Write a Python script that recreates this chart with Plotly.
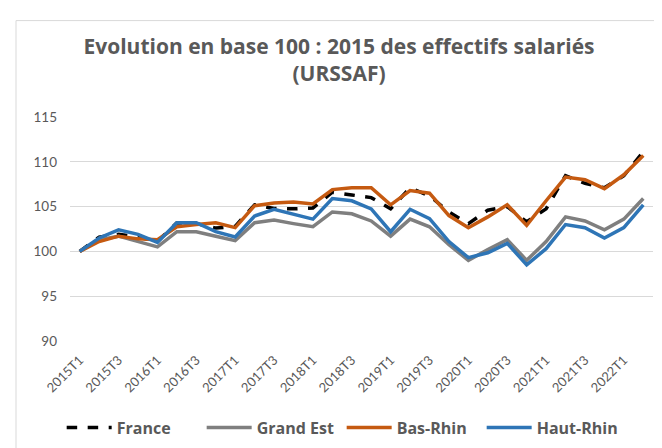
import plotly.graph_objects as go

quarters = [f"{y}T{q}" for y in range(2015, 2023) for q in range(1, 5)][:30]

france = [100, 101.6, 101.9, 101.6, 101.1, 103.2, 103.1, 102.6, 102.8, 105.2,
          104.8, 104.75, 104.85, 106.6, 106.3, 106.0, 104.75, 107.1, 106.2, 104.4,
          103.1, 104.6, 105.0, 103.3, 104.75, 108.45, 107.6, 107.1, 108.45, 111.1]
grand_est = [100, 101.3, 101.7, 101.1, 100.5, 102.2, 102.2, 101.7, 101.2, 103.2,
             103.5, 103.1, 102.75, 104.4, 104.2, 103.4, 101.7, 103.6, 102.75, 100.75,
             99.0, 100.2, 101.3, 99.0, 101.1, 103.85, 103.4, 102.4, 103.6, 105.9]
bas_rhin = [100, 101.1, 101.7, 101.4, 101.3, 102.75, 103.0, 103.2, 102.65, 105.1,
            105.4, 105.5, 105.3, 106.9, 107.1, 107.1, 105.2, 106.8, 106.5, 104.0,
            102.65, 103.85, 105.2, 102.9, 105.65, 108.3, 108.0, 107.0, 108.55, 110.7]
haut_rhin = [100, 101.5, 102.4, 101.9, 101.0, 103.2, 103.2, 102.2, 101.6, 103.95,
             104.7, 104.1, 103.6, 105.9, 105.65, 104.75, 102.2, 104.7, 103.65, 101.1,
             99.3, 99.85, 100.9, 98.5, 100.3, 103.0, 102.65, 101.5, 102.65, 105.2]

tick_labels = quarters[::2]

series = [
    ("France", france, "black", "dash"),
    ("Grand Est", grand_est, "#7F7F7F", "solid"),
    ("Bas-Rhin", bas_rhin, "#C55A11", "solid"),
    ("Haut-Rhin", haut_rhin, "#2E75B6", "solid"),
]

FONT = "Lato, 'Open Sans', sans-serif"
BOLD = "'Open Sans', sans-serif"
fig = go.Figure()
for name, vals, color, dash in series:
    fig.add_trace(go.Scatter(
        x=quarters, y=vals, name=f"<b>{name}</b>", mode="lines",
        line=dict(color=color, width=3.5, dash=dash),
    ))

fig.update_layout(
    width=662, height=448,
    margin=dict(l=62, r=17, t=109, b=109),
    paper_bgcolor="white", plot_bgcolor="white",
    font=dict(family=FONT, color="#595959"),
    title=dict(
        text="<b>Evolution en base 100 : 2015 des effectifs salariés<br>(URSSAF)</b>",
        x=0.5, xanchor="center", y=1 - 46 / 448, yanchor="middle",
        font=dict(size=21, color="#595959", family=BOLD),
    ),
    xaxis=dict(
        type="category", range=[-0.5, 29.5],
        tickmode="array", tickvals=tick_labels, ticktext=tick_labels,
        tickangle=-45, tickfont=dict(size=13, color="#595959"),
        showgrid=False, showline=False, zeroline=False, ticks="",
        ticklabelstandoff=8,
    ),
    yaxis=dict(
        range=[90, 115], dtick=5, tickfont=dict(size=13.5, color="#595959"),
        gridcolor="#D9D9D9", gridwidth=1, zeroline=False, showline=False,
        ticks="", ticklabelstandoff=12,
    ),
    legend=dict(
        orientation="h", x=0.466, xanchor="center", y=-0.387, yanchor="middle",
        font=dict(size=16, color="#595959", family=BOLD), itemwidth=45,
        traceorder="normal", entrywidth=80, entrywidthmode="pixels",
    ),
    shapes=[
        dict(type="line", xref="paper", yref="paper",
             x0=(8 - 62) / 583, x1=(8 - 62) / 583, y0=1 + (109 - 10) / 230, y1=-0.5,
             line=dict(color="#D9D9D9", width=1)),
        dict(type="line", xref="paper", yref="paper",
             x0=(8 - 62) / 583, x1=1.05, y0=1 + (109 - 10) / 230, y1=1 + (109 - 10) / 230,
             line=dict(color="#D9D9D9", width=1)),
    ],
)

fig.write_html("out.html")
